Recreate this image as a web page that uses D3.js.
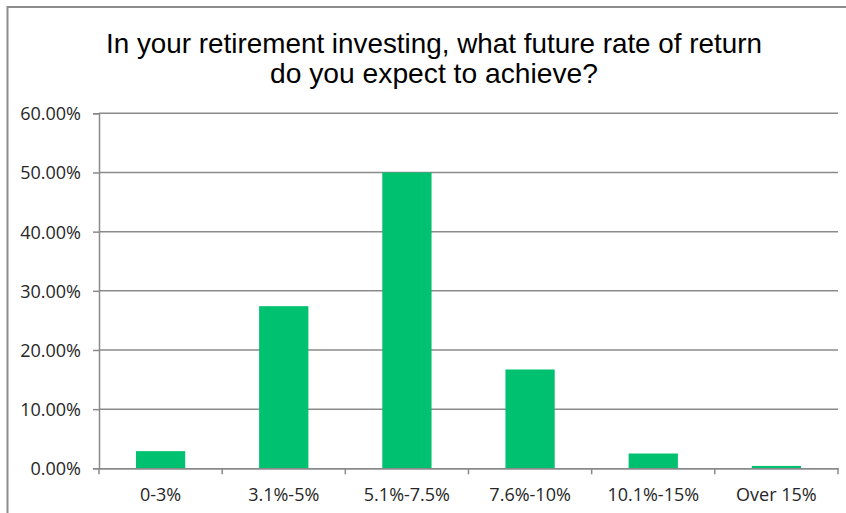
<!DOCTYPE html>
<html>
<head>
<meta charset="utf-8">
<script src="https://cdn.jsdelivr.net/npm/d3@7"></script>
<style>
  html, body { margin: 0; padding: 0; background: #fff; overflow: hidden; }
  svg { display: block; }
</style>
</head>
<body>
<svg id="chart" width="846" height="513"></svg>
<script>
// Survey answers: expected future rate of return
const categories = ["0-3%", "3.1%-5%", "5.1%-7.5%", "7.6%-10%", "10.1%-15%", "Over 15%"];
const shares = [2.9, 27.4, 50.0, 16.7, 2.5, 0.4];
const yTicks = [0, 10, 20, 30, 40, 50, 60];
const titleLines = ["In your retirement investing, what future rate of return", "do you expect to achieve?"];

const svg = d3.select("#chart");
const W = 846, H = 513;
const margin = { left: 99, right: 8, top: 113.3, bottom: 44.7 };

// chart frame
svg.append("rect")
  .attr("x", 7.5).attr("y", 7)
  .attr("width", W).attr("height", H)
  .attr("fill", "#fff")
  .attr("stroke", "#8c8c8c").attr("stroke-width", 2);

const x = d3.scaleBand()
  .domain(categories)
  .range([margin.left, W - margin.right])
  .paddingInner(0.6).paddingOuter(0.3);

const y = d3.scaleLinear()
  .domain([0, 60])
  .range([H - margin.bottom, margin.top]);

// title
const title = svg.append("text")
  .attr("text-anchor", "middle")
  .attr("font-family", "'Liberation Sans', Arial, sans-serif")
  .attr("font-size", 28)
  .attr("fill", "#000");
const titleWidths = [656, 328];
titleLines.forEach((t, i) => {
  title.append("tspan")
    .attr("x", 434)
    .attr("y", 53 + i * 29.5)
    .attr("textLength", titleWidths[i])
    .attr("lengthAdjust", "spacingAndGlyphs")
    .text(t);
});

// horizontal gridlines
svg.append("g")
  .selectAll("line")
  .data(yTicks.filter(d => d > 0))
  .join("line")
  .attr("x1", margin.left).attr("x2", W - margin.right)
  .attr("y1", d => y(d)).attr("y2", d => y(d))
  .attr("stroke", "#8a8a8a").attr("stroke-width", 1.5);

// bars
svg.append("g")
  .selectAll("rect")
  .data(categories)
  .join("rect")
  .attr("x", (d) => x(d))
  .attr("width", x.bandwidth())
  .attr("y", (d, i) => y(shares[i]))
  .attr("height", (d, i) => y(0) - y(shares[i]))
  .attr("fill", "#00C170");

const font = "'Open Sans', 'Liberation Sans', sans-serif";

// value axis
const yAxis = d3.axisLeft(y)
  .tickValues(yTicks)
  .tickSize(6)
  .tickPadding(12)
  .tickFormat(d => d3.format(".2f")(d) + "%");
const gy = svg.append("g")
  .attr("transform", `translate(${margin.left},0)`)
  .call(yAxis);
gy.select(".domain").attr("stroke", "#8a8a8a").attr("stroke-width", 1.5);
gy.selectAll(".tick line").attr("stroke", "#8a8a8a").attr("stroke-width", 1.5);
gy.selectAll(".tick text")
  .attr("font-family", font).attr("font-size", 18)
  .attr("fill", "#262626")
  .attr("dy", "0.36em");

// category axis with ticks between bands
const xAxis = d3.axisBottom(x).tickSize(0).tickPadding(20);
const gx = svg.append("g")
  .attr("transform", `translate(0,${y(0)})`)
  .call(xAxis);
gx.select(".domain").attr("stroke", "#8a8a8a").attr("stroke-width", 1.8);
gx.selectAll(".tick text")
  .attr("font-family", font).attr("font-size", 18)
  .attr("fill", "#262626");

const bounds = d3.range(categories.length + 1).map(i => margin.left + i * ((W - margin.right - margin.left) / categories.length));
gx.append("g")
  .selectAll("line")
  .data(bounds)
  .join("line")
  .attr("x1", d => d).attr("x2", d => d)
  .attr("y1", 0).attr("y2", 6)
  .attr("stroke", "#8a8a8a").attr("stroke-width", 1.5);
</script>
</body>
</html>
